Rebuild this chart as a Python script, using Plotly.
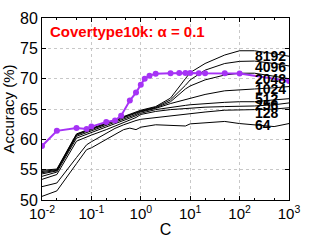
import plotly.graph_objects as go

# ---- data ----
C_black = [0.01, 0.02, 0.05, 0.08, 0.1, 0.2, 0.3, 0.45, 0.6, 0.8, 1, 2, 4, 8, 10, 20, 50, 100, 200, 500, 1000]
acc_8192 = [54.9, 55.1, 60.9, 61.5, 61.8, 62.7, 63.3, 63.8, 64.2, 64.5, 64.8, 65.4, 66.8, 70.0, 71.0, 72.5, 73.9, 74.6, 74.6, 74.1, 73.7]
acc_4096 = [54.7, 55.0, 60.8, 61.4, 61.7, 62.6, 63.2, 63.7, 64.1, 64.4, 64.7, 65.3, 66.5, 68.9, 69.8, 71.4, 72.5, 72.85, 72.9, 72.5, 72.1]
acc_2048 = [54.5, 54.9, 60.7, 61.3, 61.6, 62.5, 63.1, 63.6, 64.0, 64.3, 64.6, 65.2, 66.2, 68.3, 68.8, 69.8, 70.6, 70.9, 70.9, 70.4, 70.0]
acc_1024 = [54.3, 54.8, 60.5, 61.1, 61.4, 62.3, 62.9, 63.4, 63.8, 64.1, 64.5, 65.1, 65.9, 66.6, 66.8, 67.4, 68.0, 68.2, 68.3, 68.5, 68.7]
acc_512 = [53.9, 54.6, 60.2, 60.8, 61.1, 62.0, 62.6, 63.1, 63.5, 63.9, 64.3, 64.9, 65.3, 65.6, 65.7, 65.9, 66.1, 66.2, 66.2, 66.5, 66.7]
acc_256 = [53.4, 54.2, 59.7, 60.4, 60.7, 61.6, 62.2, 62.8, 63.2, 63.6, 64.1, 64.6, 64.9, 65.1, 65.2, 65.3, 65.4, 65.4, 65.5, 65.7, 66.0]
acc_128 = [52.2, 52.8, 57.0, 59.1, 59.6, 61.0, 61.8, 62.4, 62.8, 63.1, 63.3, 63.6, 63.9, 64.2, 64.3, 64.5, 64.8, 64.9, 64.9, 65.0, 65.2]
acc_64 = [50.6, 51.5, 56.0, 58.3, 58.6, 59.9, 60.8, 61.6, 61.85, 61.6, 62.0, 62.4, 62.3, 62.2, 62.55, 62.7, 62.95, 62.6, 62.4, 62.1, 62.6]

black_names = ["8192", "4096", "2048", "1024", "512", "256", "128", "64"]
black_series = [acc_8192, acc_4096, acc_2048, acc_1024, acc_512, acc_256, acc_128, acc_64]
label_y = [73.8, 72.0, 69.9, 68.35, 66.6, 65.7, 64.4, 62.4]
label_logx = 2.29

C_purple = [0.01, 0.02, 0.05, 0.08, 0.1, 0.2, 0.3, 0.4, 0.6, 0.8, 1, 1.2, 1.5, 2, 4, 6, 8, 10, 15, 20, 50, 100, 1000]
acc_purple = [58.9, 61.4, 61.85, 61.7, 62.1, 62.85, 63.1, 63.9, 66.4, 67.7, 69.0, 70.0, 70.5, 70.8, 70.9, 70.95, 70.95, 70.95, 70.9, 70.9, 70.9, 70.85, 69.6]

x_tickvals = [0.01, 0.1, 1, 10, 100, 1000]
x_ticktext = ["10<sup>-2</sup>", "10<sup>-1</sup>", "10<sup>0</sup>", "10<sup>1</sup>", "10<sup>2</sup>", "10<sup>3</sup>"]
y_tickvals = [50, 55, 60, 65, 70, 75, 80]

title_text = "Covertype10k: \u03b1 = 0.1"
FONT = "Liberation Sans, Arial, Helvetica, sans-serif"

fig = go.Figure()
for name, ys in zip(black_names, black_series):
    fig.add_trace(go.Scatter(x=C_black, y=ys, mode="lines", name=name,
                             line=dict(color="black", width=1), showlegend=False))
fig.add_trace(go.Scatter(x=C_purple, y=acc_purple, mode="lines+markers",
                         line=dict(color="#a633f5", width=2),
                         marker=dict(color="#a633f5", size=6), showlegend=False))

for name, yv in zip(black_names, label_y):
    fig.add_annotation(x=label_logx, y=yv, xref="x", yref="y", text="<b>%s</b>" % name,
                       showarrow=False, xanchor="left", yanchor="middle", borderpad=0,
                       font=dict(family=FONT, size=14, color="black"))

fig.add_annotation(x=0.03, y=0.926, xref="paper", yref="paper", text="<b>%s</b>" % title_text,
                   showarrow=False, xanchor="left", yanchor="middle", borderpad=0,
                   font=dict(family=FONT, size=15, color="red"))

fig.update_xaxes(type="log", range=[-2, 3], tickmode="array", tickvals=x_tickvals, ticktext=x_ticktext,
                 showline=True, linecolor="black", linewidth=1, mirror="allticks",
                 ticks="inside", ticklen=4, tickcolor="black", automargin=False,
                 minor=dict(ticks="inside", ticklen=2, tickcolor="black", showgrid=False),
                 showgrid=True, gridcolor="#c8c8c8", griddash="dot", gridwidth=1,
                 zeroline=False, tickfont=dict(family=FONT, size=15, color="black"),
                 title=dict(text="C", font=dict(family=FONT, size=16, color="black"), standoff=2))
fig.update_yaxes(range=[50, 80], tickmode="array", tickvals=y_tickvals,
                 showline=True, linecolor="black", linewidth=1, mirror="allticks",
                 ticks="inside", ticklen=4, tickcolor="black", automargin=False,
                 showgrid=True, gridcolor="#c8c8c8", griddash="dot", gridwidth=1,
                 zeroline=False, tickfont=dict(family=FONT, size=16, color="black"),
                 title=dict(text="Accuracy (%)", font=dict(family=FONT, size=15, color="black"), standoff=2))

fig.update_layout(width=319, height=240, margin=dict(l=42, r=30, t=18, b=40),
                  plot_bgcolor="white", paper_bgcolor="white",
                  font=dict(family=FONT))
fig.write_html("out.html", config={"displayModeBar": False},
               post_script="document.body.style.margin='0';document.body.style.padding='0';document.body.style.overflow='hidden';")
